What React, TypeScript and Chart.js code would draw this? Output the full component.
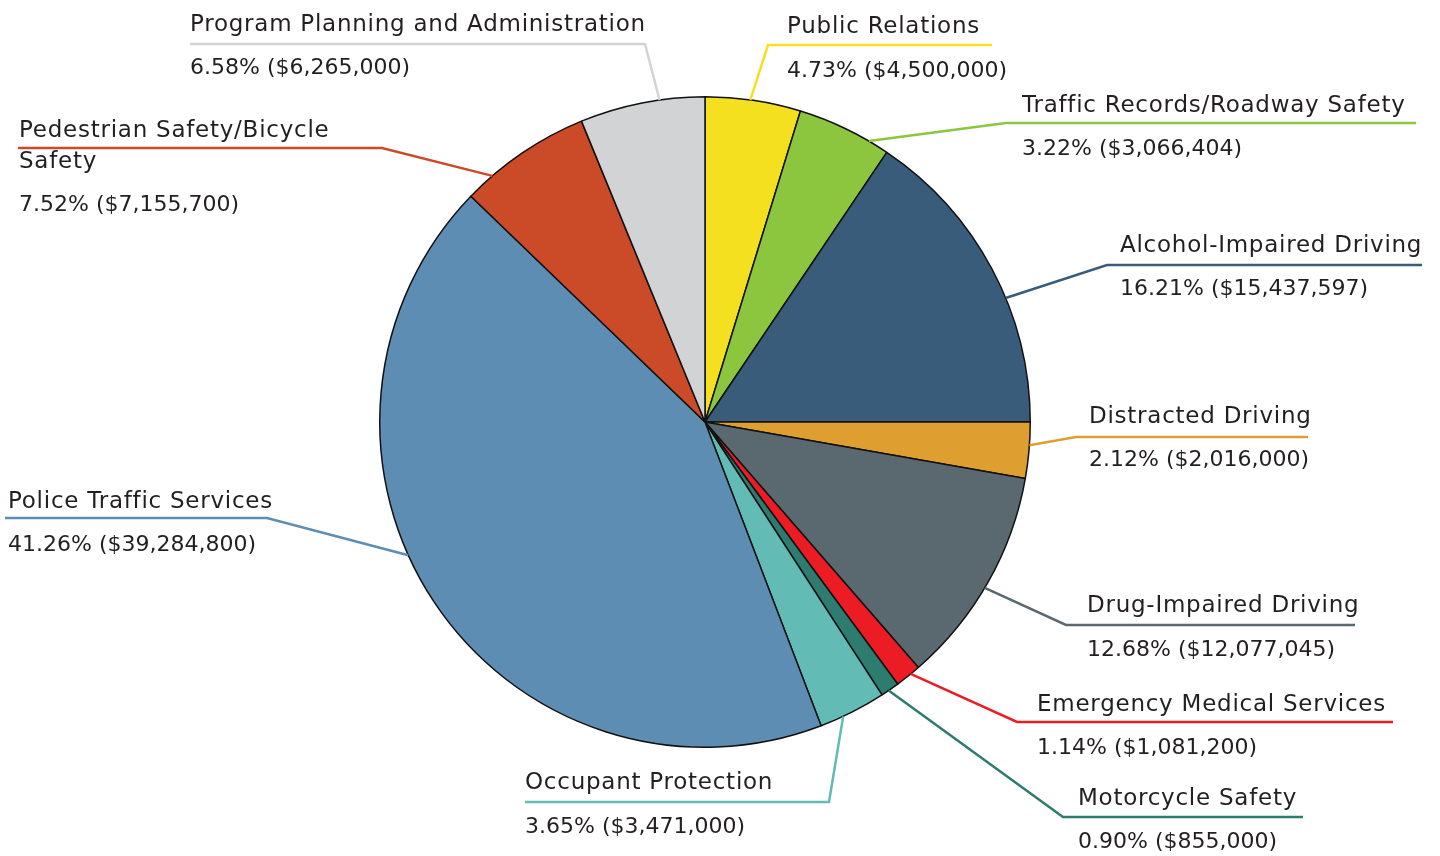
import React, { useEffect, useRef } from "react";
import { Chart, registerables } from "chart.js";

Chart.register(...registerables);

// Categories, clockwise from 12 o'clock
const categories: (string | string[])[] = [
  "Public Relations",
  "Traffic Records/Roadway Safety",
  "Alcohol-Impaired Driving",
  "Distracted Driving",
  "Drug-Impaired Driving",
  "Emergency Medical Services",
  "Motorcycle Safety",
  "Occupant Protection",
  "Police Traffic Services",
  ["Pedestrian Safety/Bicycle", "Safety"],
  "Program Planning and Administration",
];

// Slice sizes as drawn in the picture (share of the circle, %)
const sliceShares = [4.74, 4.7, 15.56, 2.78, 10.83, 1.3, 0.93, 3.35, 43.02, 6.59, 6.2];

// Printed label values
const labelPercents = ["4.73%", "3.22%", "16.21%", "2.12%", "12.68%", "1.14%", "0.90%", "3.65%", "41.26%", "7.52%", "6.58%"];
const labelAmounts = [
  "$4,500,000",
  "$3,066,404",
  "$15,437,597",
  "$2,016,000",
  "$12,077,045",
  "$1,081,200",
  "$855,000",
  "$3,471,000",
  "$39,284,800",
  "$7,155,700",
  "$6,265,000",
];

const sliceColors = [
  "#F5E01F",
  "#8CC63F",
  "#385C79",
  "#DE9F30",
  "#5A6870",
  "#EC1C24",
  "#2E7B70",
  "#62BCB5",
  "#5E8DB4",
  "#CB4A27",
  "#D1D3D4",
];

// Callout layout (positions only)
const calloutLayout = [
  { frac: 0.47, elbowX: 768, elbowY: 45, endX: 992, textX: 787, titleBL: [33], valueBL: 77 },
  { frac: 0.78, elbowX: 1006, elbowY: 123, endX: 1416, textX: 1022, titleBL: [112], valueBL: 155 },
  { frac: 0.6, elbowX: 1107, elbowY: 265, endX: 1422, textX: 1120, titleBL: [252], valueBL: 295 },
  { frac: 0.41, elbowX: 1076, elbowY: 437, endX: 1308, textX: 1089, titleBL: [423], valueBL: 466 },
  { frac: 0.53, elbowX: 1066, elbowY: 625, endX: 1355, textX: 1087, titleBL: [612], valueBL: 656 },
  { frac: 0.38, elbowX: 1017, elbowY: 722, endX: 1393, textX: 1037, titleBL: [711], valueBL: 754 },
  { frac: 0.58, elbowX: 1063, elbowY: 817, endX: 1303, textX: 1078, titleBL: [805], valueBL: 848 },
  { frac: 0.65, elbowX: 829, elbowY: 802, endX: 525, textX: 525, titleBL: [789], valueBL: 833 },
  { frac: 0.56, elbowX: 267, elbowY: 518, endX: 5, textX: 8, titleBL: [508], valueBL: 551 },
  { frac: 0.22, elbowX: 382, elbowY: 148, endX: 18, textX: 19, titleBL: [137, 168], valueBL: 211 },
  { frac: 0.64, elbowX: 645, elbowY: 44, endX: 190, textX: 190, titleBL: [31], valueBL: 74 },
];

const calloutPlugin = {
  id: "callouts",
  afterDatasetsDraw(chart: any) {
    const ctx = chart.ctx as CanvasRenderingContext2D;
    const meta = chart.getDatasetMeta(0);
    meta.data.forEach((arc: any, i: number) => {
      const { x, y, startAngle, endAngle, outerRadius } = arc.getProps(
        ["x", "y", "startAngle", "endAngle", "outerRadius"],
        true
      );
      const L = calloutLayout[i];
      const a = startAngle + L.frac * (endAngle - startAngle);
      const px = x + Math.cos(a) * outerRadius;
      const py = y + Math.sin(a) * outerRadius;
      ctx.save();
      ctx.fillStyle = "#231F20";
      ctx.textAlign = "left";
      ctx.textBaseline = "alphabetic";
      ctx.font = '23px "DejaVu Sans"';
      (ctx as any).letterSpacing = "0.75px";
      const title = categories[i];
      const lines = Array.isArray(title) ? title : [title];
      lines.forEach((t, k) => ctx.fillText(t, L.textX, L.titleBL[k]));
      ctx.font = '22px "DejaVu Sans"';
      (ctx as any).letterSpacing = "0px";
      ctx.fillText(`${labelPercents[i]} (${labelAmounts[i]})`, L.textX, L.valueBL);
      ctx.strokeStyle = sliceColors[i];
      ctx.lineWidth = 2.5;
      ctx.lineJoin = "miter";
      ctx.beginPath();
      ctx.moveTo(px, py);
      ctx.lineTo(L.elbowX, L.elbowY);
      ctx.lineTo(L.endX, L.elbowY);
      ctx.stroke();
      ctx.restore();
    });
  },
};

export default function App() {
  const canvasRef = useRef<HTMLCanvasElement | null>(null);

  useEffect(() => {
    if (!canvasRef.current) return;
    const chart = new Chart(canvasRef.current, {
      type: "pie",
      data: {
        labels: categories.map((c) => (Array.isArray(c) ? c.join(" ") : c)),
        datasets: [
          {
            data: sliceShares,
            backgroundColor: sliceColors,
            borderColor: "#111111",
            borderWidth: 1.5,
          },
        ],
      },
      options: {
        responsive: false,
        animation: false,
        devicePixelRatio: 1,
        layout: {
          padding: { top: 96, bottom: 108, left: 379, right: 409 },
        },
        plugins: {
          legend: { display: false },
          tooltip: { enabled: false },
        },
      },
      plugins: [calloutPlugin],
    });
    return () => chart.destroy();
  }, []);

  return (
    <div
      style={{
        position: "fixed",
        left: 0,
        top: 0,
        width: 1440,
        height: 856,
        background: "#ffffff",
      }}
    >
      <canvas ref={canvasRef} width={1440} height={856} style={{ display: "block" }} />
    </div>
  );
}
